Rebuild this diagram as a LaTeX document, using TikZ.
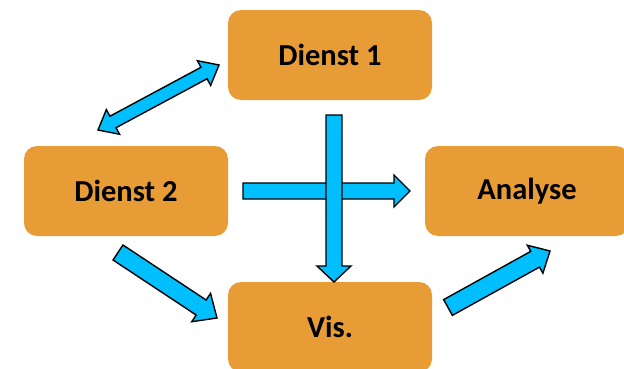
\documentclass[tikz,border=0pt]{standalone}
\usepackage{fontspec}
\setmainfont{Carlito}
\usetikzlibrary{calc}
\definecolor{boxor}{HTML}{E89C36}
\definecolor{arrcy}{HTML}{00BFFF}
\tikzset{
  box/.style={rectangle, rounded corners=13pt, fill=boxor, draw=none,
    minimum width=204pt, minimum height=90pt, inner sep=0pt,
    font=\fontsize{30.5}{36}\selectfont\bfseries, text=black},
  barrow/.style={fill=arrcy, draw=black, line width=1.4pt, line join=miter}
}
% #1 tail, #2 tip, #3 id, #4 shaft half width, #5 head half width, #6 head length
\newcommand{\blockarrow}[6]{%
  \coordinate (#3h) at ($(#2)!#6!(#1)$);
  \draw[barrow] ($(#1)!#4!-90:(#2)$) -- ($(#3h)!#4!-90:(#2)$) -- ($(#3h)!#5!-90:(#2)$)
    -- (#2) -- ($(#3h)!#5!90:(#2)$) -- ($(#3h)!#4!90:(#2)$) -- ($(#1)!#4!90:(#2)$) -- cycle;
}
\newcommand{\dblarrow}[6]{%
  \coordinate (#3a) at ($(#1)!#6!(#2)$);
  \coordinate (#3b) at ($(#2)!#6!(#1)$);
  \draw[barrow] (#1) -- ($(#3a)!#5!90:(#2)$) -- ($(#3a)!#4!90:(#2)$) -- ($(#3b)!#4!90:(#2)$)
    -- ($(#3b)!#5!90:(#2)$) -- (#2) -- ($(#3b)!#5!-90:(#2)$) -- ($(#3b)!#4!-90:(#2)$)
    -- ($(#3a)!#4!-90:(#2)$) -- ($(#3a)!#5!-90:(#2)$) -- cycle;
}
\begin{document}
\begin{tikzpicture}[x=1pt,y=1pt]
\useasboundingbox (0,0) rectangle (624,368);
\clip (0,0) rectangle (624,368);
\node[box] (d1) at (330,313) {Dienst 1};
\node[box] (d2) at (126,177) {Dienst 2};
\node[box] (an) at (527,177) {Analyse};
\node[box] (vis) at (330,41) {Vis.};
% arrow end points
\coordinate (ddA) at (98,238);
\coordinate (ddB) at (219,303);
\coordinate (hA) at (243,177);
\coordinate (hB) at (410,177);
\coordinate (vA) at (334,253);
\coordinate (vB) at (334,86);
\coordinate (dvA) at (118,115.5);
\coordinate (dvB) at (217,50);
\coordinate (vaA) at (448,60.5);
\coordinate (vaB) at (550,117);
\dblarrow{ddA}{ddB}{dd}{6.5pt}{14pt}{17pt}
\blockarrow{hA}{hB}{hh}{8pt}{16pt}{16pt}
\blockarrow{vA}{vB}{vv}{8pt}{17pt}{16pt}
\blockarrow{dvA}{dvB}{dv}{9pt}{17pt}{19pt}
\blockarrow{vaA}{vaB}{va}{9pt}{16pt}{17pt}
\end{tikzpicture}
\end{document}
